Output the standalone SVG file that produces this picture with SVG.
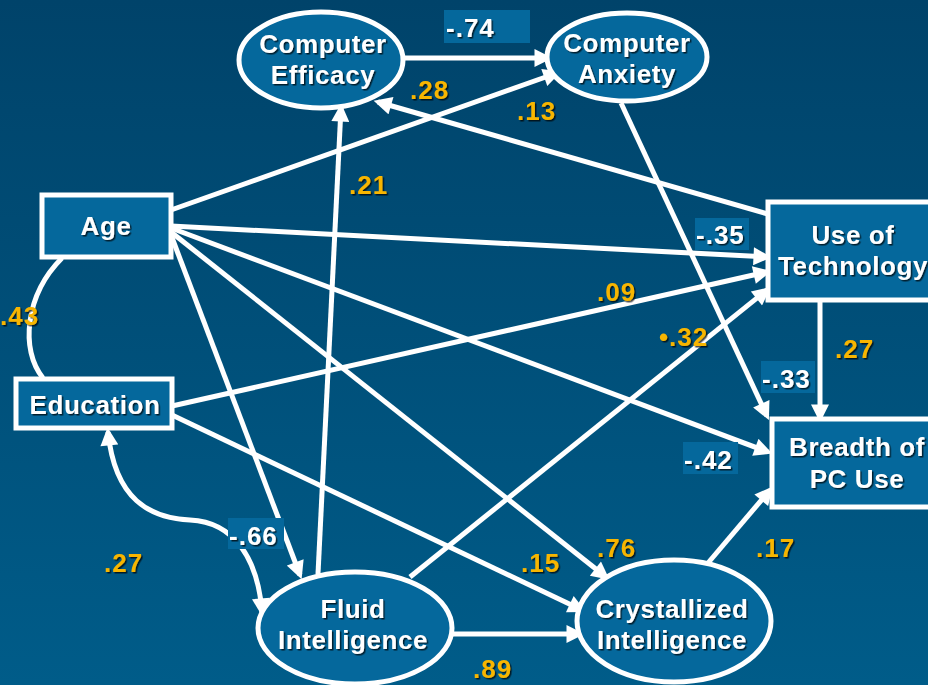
<svg xmlns="http://www.w3.org/2000/svg" width="928" height="685" viewBox="0 0 928 685">
<defs>
<linearGradient id="bg" x1="0" y1="0" x2="0" y2="1">
<stop offset="0" stop-color="#00436a"/>
<stop offset="1" stop-color="#005c89"/>
</linearGradient>
<marker id="ah" viewBox="0 0 10 10" markerWidth="20" markerHeight="18" markerUnits="userSpaceOnUse" refX="7.5" refY="5" orient="auto-start-reverse">
<path d="M0,0 L10,5 L0,10 Z" fill="#fff"/>
</marker>
<filter id="sh" x="-10%" y="-10%" width="130%" height="140%">
<feDropShadow dx="1.5" dy="1.5" stdDeviation="0.6" flood-color="#000" flood-opacity="0.7"/>
</filter>
<style>
.node{fill:#05689c;stroke:#fff;stroke-width:5}
.nt{font-family:"Liberation Sans",Arial,sans-serif;font-weight:bold;font-size:26px;letter-spacing:0.6px;fill:#fff;text-anchor:middle;filter:url(#sh)}
.y{font-family:"Liberation Sans",Arial,sans-serif;font-weight:bold;font-size:26px;letter-spacing:1px;fill:#f7b500;filter:url(#sh)}
.w{font-family:"Liberation Sans",Arial,sans-serif;font-weight:bold;font-size:26px;letter-spacing:1px;fill:#fff;filter:url(#sh)}
.lb{fill:#05689c}
.c{stroke:#fff;stroke-width:5;fill:none}
</style>
</defs>
<rect x="0" y="0" width="928" height="685" fill="url(#bg)"/>

<g id="connectors">
<line class="c" x1="403" y1="58" x2="548" y2="58" marker-end="url(#ah)"/>
<line class="c" x1="171" y1="210" x2="557" y2="73" marker-end="url(#ah)"/>
<line class="c" x1="768" y1="214" x2="378" y2="102" marker-end="url(#ah)"/>
<line class="c" x1="621" y1="103" x2="767" y2="416" marker-end="url(#ah)"/>
<line class="c" x1="318" y1="574" x2="341" y2="108" marker-end="url(#ah)"/>
<line class="c" x1="171" y1="226" x2="767" y2="257" marker-end="url(#ah)"/>
<line class="c" x1="172" y1="406" x2="767" y2="272" marker-end="url(#ah)"/>
<line class="c" x1="410" y1="577" x2="767" y2="290" marker-end="url(#ah)"/>
<line class="c" x1="171" y1="228" x2="768" y2="452" marker-end="url(#ah)"/>
<line class="c" x1="171" y1="235" x2="300" y2="575" marker-end="url(#ah)"/>
<line class="c" x1="171" y1="232" x2="606" y2="577" marker-end="url(#ah)"/>
<line class="c" x1="172" y1="415" x2="582" y2="610" marker-end="url(#ah)"/>
<line class="c" x1="452" y1="634" x2="580" y2="634" marker-end="url(#ah)"/>
<line class="c" x1="708" y1="563" x2="770" y2="490" marker-end="url(#ah)"/>
<line class="c" x1="820" y1="302" x2="820" y2="418" marker-end="url(#ah)"/>
<path class="c" d="M62,258 C25,295 20,350 43,378"/>
<path class="c" d="M108,432 C115,500 150,518 190,520 C235,522 258,560 262,612" marker-start="url(#ah)" marker-end="url(#ah)"/>
</g>

<g id="computer-efficacy">
<ellipse class="node" cx="321" cy="60" rx="82" ry="48"/>
<text class="nt" x="323" y="53">Computer</text>
<text class="nt" x="323" y="84">Efficacy</text>
</g>
<g id="computer-anxiety">
<ellipse class="node" cx="627" cy="57" rx="80" ry="44"/>
<text class="nt" x="627" y="52">Computer</text>
<text class="nt" x="627" y="83">Anxiety</text>
</g>
<g id="age">
<rect class="node" x="42" y="195" width="129" height="62"/>
<text class="nt" x="106" y="235">Age</text>
</g>
<g id="education">
<rect class="node" x="16" y="379" width="156" height="49"/>
<text class="nt" x="95" y="414">Education</text>
</g>
<g id="use-of-technology">
<rect class="node" x="768" y="202" width="170" height="98"/>
<text class="nt" x="853" y="244">Use of</text>
<text class="nt" x="853" y="275">Technology</text>
</g>
<g id="breadth-of-pc-use">
<rect class="node" x="772" y="419" width="166" height="88"/>
<text class="nt" x="857" y="456">Breadth of</text>
<text class="nt" x="857" y="488">PC Use</text>
</g>
<g id="fluid-intelligence">
<ellipse class="node" cx="355" cy="628" rx="97" ry="56"/>
<text class="nt" x="353" y="618">Fluid</text>
<text class="nt" x="353" y="649">Intelligence</text>
</g>
<g id="crystallized-intelligence">
<ellipse class="node" cx="674" cy="621" rx="97" ry="61"/>
<text class="nt" x="672" y="618">Crystallized</text>
<text class="nt" x="672" y="649">Intelligence</text>
</g>

<g id="labels">
<rect class="lb" x="444" y="10" width="86" height="33"/>
<text class="w" x="446" y="37">-.74</text>
<rect class="lb" x="695" y="218" width="54" height="32"/>
<text class="w" x="696" y="244">-.35</text>
<rect class="lb" x="761" y="361" width="54" height="32"/>
<text class="w" x="762" y="388">-.33</text>
<rect class="lb" x="683" y="442" width="55" height="32"/>
<text class="w" x="684" y="469">-.42</text>
<rect class="lb" x="228" y="518" width="56" height="31"/>
<text class="w" x="229" y="545">-.66</text>
<text class="y" x="410" y="99">.28</text>
<text class="y" x="517" y="120">.13</text>
<text class="y" x="349" y="194">.21</text>
<text class="y" x="597" y="301">.09</text>
<text class="y" x="659" y="346">•.32</text>
<text class="y" x="835" y="358">.27</text>
<text class="y" x="0" y="325">.43</text>
<text class="y" x="104" y="572">.27</text>
<text class="y" x="521" y="572">.15</text>
<text class="y" x="597" y="557">.76</text>
<text class="y" x="756" y="557">.17</text>
<text class="y" x="473" y="678">.89</text>
</g>
</svg>
